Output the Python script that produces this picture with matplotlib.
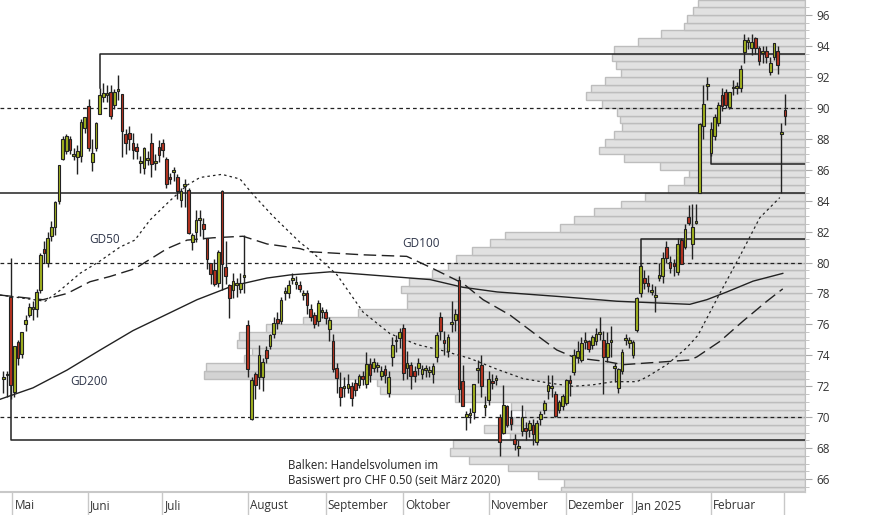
import matplotlib
matplotlib.use("Agg")
import matplotlib.pyplot as plt
import matplotlib.transforms as mtransforms
import numpy as np

plt.rcParams['font.family'] = ['Open Sans', 'DejaVu Sans']

# ---------------- data ----------------
ohlc = [
(72.5,73.0,71.6,72.6),(72.7,73.0,71.3,72.7),(77.8,80.3,71.2,72.1),(71.65,74.6,71.3,74.6),
(74.85,75.0,73.4,73.8),(74.1,75.5,73.8,75.5),(76.0,76.6,75.6,76.3),(76.6,77.4,76.5,77.1),
(77.0,77.5,76.3,77.05),(77.0,78.3,76.5,78.1),(78.2,80.6,78.0,80.5),(80.9,81.4,80.0,80.6),
(80.0,82.0,79.7,81.6),(81.7,82.7,81.4,82.3),(82.3,84.0,81.8,83.9),(84.0,86.3,83.8,86.3),
(86.7,88.2,86.6,88.0),(87.2,88.3,87.0,88.2),(88.0,88.2,87.0,87.3),(86.9,87.4,86.6,86.95),
(86.8,87.6,85.7,87.2),(86.9,89.3,86.5,89.1),(88.7,89.4,88.4,89.4),(90.1,90.6,87.2,87.4),
(86.5,88.0,85.9,87.1),(87.4,89.1,87.2,89.0),(89.6,91.3,89.6,90.8),(90.7,91.6,90.4,90.95),
(90.85,91.5,90.4,90.9),(91.0,91.5,89.3,89.5),(90.2,91.2,89.9,91.0),(91.1,92.1,90.5,91.15),
(90.9,90.9,86.8,88.5),(88.3,88.6,87.0,87.7),(88.4,88.8,87.3,88.0),(87.7,88.4,86.7,87.3),
(87.45,87.7,86.7,87.2),(86.45,86.9,85.8,86.5),(86.1,87.5,85.7,87.4),(86.65,87.2,86.3,86.7),
(87.7,88.4,85.5,86.35),(86.45,87.0,86.0,86.5),(87.45,87.9,86.5,86.95),(87.75,88.0,86.8,87.3),
(86.7,86.8,84.8,85.1),(85.55,85.8,85.1,85.4),(85.85,86.2,85.3,85.9),(85.55,85.7,84.1,84.6),
(84.05,84.8,83.6,84.65),(84.95,85.4,83.6,85.0),(84.7,84.8,81.85,81.9),(81.3,81.9,80.8,81.75),
(82.0,83.4,81.3,82.75),(82.75,83.4,81.7,82.8),(82.5,82.9,81.5,82.15),(81.6,81.6,79.6,80.2),
(79.95,80.0,78.6,79.26),(79.5,80.2,78.5,78.6),(78.65,80.8,78.4,80.7),(84.63,84.7,78.2,79.9),
(79.7,81.4,78.6,79.1),(78.55,78.6,76.4,77.7),(78.2,79.3,77.7,78.8),(78.55,79.0,77.8,78.6),
(78.3,79.3,78.0,78.7),(79.05,81.8,78.0,79.1),(75.96,76.3,72.6,73.1),(69.9,72.6,69.8,72.4),
(72.8,72.9,71.2,72.1),(72.6,74.7,71.8,74.0),(72.6,73.8,71.7,73.6),(74.35,74.6,73.5,73.8),
(74.6,75.4,74.4,75.3),(75.4,76.5,75.1,76.1),(76.35,76.8,75.7,76.1),(76.2,77.8,76.0,77.6),
(78.05,78.4,77.6,78.1),(78.05,78.9,77.7,78.55),(78.85,79.3,78.6,78.9),(78.6,79.1,78.3,78.65),
(78.55,78.8,78.1,78.3),(77.9,78.2,77.6,77.95),(78.05,78.2,76.7,77.25),(77.0,77.3,76.2,76.5),
(76.6,76.8,75.8,76.0),(76.2,77.6,75.9,77.4),(76.8,77.1,76.4,76.85),(76.8,77.0,76.0,76.4),
(75.7,76.5,74.9,76.3),(74.92,75.4,72.9,73.09),(73.16,73.5,71.6,72.51),(71.93,72.9,70.7,71.28),
(71.9,72.6,71.3,71.95),(71.86,72.8,71.6,72.12),(72.0,72.3,70.7,71.22),(72.19,72.5,71.4,71.76),
(72.08,72.8,71.9,72.66),(72.66,73.0,72.1,72.45),(72.12,74.2,71.9,73.42),(73.44,73.8,72.3,72.7),
(73.2,73.8,72.9,73.57),(73.25,73.6,72.9,73.3),(72.66,73.3,72.4,73.0),(73.1,73.4,72.2,72.7),
(71.54,73.0,71.3,72.6),(73.9,75.2,73.3,74.7),(74.9,75.3,74.2,74.95),(75.1,75.8,74.5,75.5),
(75.74,76.0,72.4,72.83),(73.2,74.3,72.5,73.5),(73.38,73.6,71.8,72.67),(73.0,73.3,72.3,72.67),
(73.2,73.8,72.7,73.53),(72.8,73.4,72.5,73.1),(73.05,73.4,72.6,73.1),(72.95,73.3,72.6,73.0),
(72.8,73.5,72.2,73.3),(73.9,75.5,73.6,75.3),(76.46,76.8,75.0,75.6),(75.0,75.6,74.0,74.8),
(74.3,75.4,73.9,75.2),(76.05,77.5,75.5,76.1),(76.3,77.0,75.6,76.7),(78.87,79.1,71.0,71.83),
(72.37,73.4,70.7,70.7),(70.0,70.4,69.2,70.2),(70.15,70.6,69.6,70.2),(70.36,72.1,69.9,72.13),
(73.05,73.7,72.2,73.1),(73.38,74.0,71.3,72.04),(70.65,71.4,70.1,70.7),(71.1,73.0,70.8,72.47),
(72.34,72.8,71.8,72.2),(72.4,72.7,72.1,72.45),(70.04,70.2,67.5,68.4),(68.96,72.1,68.9,70.8),
(70.73,70.8,69.4,69.5),(69.97,70.5,69.2,69.55),(68.6,68.9,67.9,68.27),(68.0,68.5,67.5,68.04),
(69.1,70.8,68.8,70.0),(69.3,69.7,68.5,69.1),(69.2,69.8,68.7,69.6),(69.5,69.9,68.2,68.9),
(68.4,69.8,68.2,69.6),(69.9,70.4,69.5,70.2),(70.5,71.1,70.2,70.9),(71.7,72.7,71.2,72.1),
(71.9,72.7,71.3,71.95),(71.5,71.7,70.0,70.1),(70.5,71.1,70.3,71.0),(70.7,71.5,70.5,71.4),
(70.9,72.5,70.8,72.4),(72.4,72.7,71.4,72.2),(72.9,74.4,72.7,74.0),(73.9,74.9,73.5,74.3),
(73.7,75.2,73.6,74.8),(74.85,75.5,74.4,74.9),(74.9,75.0,74.2,74.4),(74.65,75.3,74.4,75.16),
(74.95,75.8,74.7,75.35),(75.4,76.5,75.0,75.5),(74.99,75.6,71.5,73.9),(73.87,75.5,73.6,74.77),
(74.85,75.9,73.9,74.9),(73.2,73.5,72.3,73.25),(71.86,73.2,71.6,73.1),(73.0,74.4,72.8,74.2),
(75.0,75.4,74.7,75.05),(74.77,75.2,74.5,74.99),(74.0,75.0,73.8,74.84),(75.63,77.8,75.5,77.68),
(78.0,79.9,77.8,79.8),(79.0,79.5,78.3,78.7),(78.7,79.2,78.1,78.5),(78.1,78.6,77.9,78.15),
(77.8,78.5,76.8,77.85),(79.0,80.0,78.8,79.2),(79.1,80.7,78.7,80.3),(81.0,81.4,80.0,80.3),
(80.05,80.4,79.3,79.66),(79.94,80.2,79.1,79.77),(79.4,81.6,79.2,81.2),(81.45,81.6,79.9,79.9),
(81.0,82.5,80.9,82.2),(82.96,83.7,82.4,82.53),(81.2,83.8,80.2,82.3),(82.55,83.8,82.5,82.65),
(84.51,89.0,84.5,88.95),(88.82,91.5,88.0,90.22),(91.4,92.0,90.5,91.5),(87.1,89.1,86.9,88.6),
(88.2,89.6,87.9,89.4),(89.0,90.4,88.8,90.2),(90.8,91.3,89.8,90.1),(91.0,91.2,90.0,90.2),
(90.03,91.0,89.9,91.0),(91.25,91.8,90.8,91.3),(91.3,91.7,90.9,91.35),(91.26,92.8,91.0,92.5),
(93.58,94.8,92.9,94.38),(94.25,94.6,93.8,94.3),(93.84,94.8,93.4,94.23),(94.49,94.6,93.5,93.89),
(93.84,94.0,92.8,93.0),(93.55,94.0,92.9,93.6),(93.67,94.0,92.9,93.3),(92.3,93.3,92.1,92.9),
(93.3,94.2,93.1,94.2),(93.7,94.0,92.2,92.8),(88.3,89.0,84.5,88.35),(89.85,90.9,88.9,89.5),
]
opens = [r[0] for r in ohlc]
highs = [r[1] for r in ohlc]
lows = [r[2] for r in ohlc]
closes = [r[3] for r in ohlc]

gd50_x = [-0.9,11.3,15.3,20.7,26.1,31.5,35.5,39.6,45,49.6,53.1,59,63.9,67.4,72.8,80.1,82.8,90.1,97.1,
          104.4,111.7,118.7,126,133.3,140.3,147.6,153.8,159.2,164.6,171,173.7,179.1,184.5,187.5,193.4,198.8,204.2,209.6]
gd50_y = [77.9,77.5,78.2,79.3,80.1,81.0,81.45,82.75,84.0,85.0,85.5,85.7,85.4,84.4,83.0,81.3,80.8,79.2,76.8,
          75.4,74.7,74.3,73.8,73.1,72.5,72.2,72.0,72.1,72.3,72.3,72.6,73.4,74.5,75.3,78.0,80.4,82.9,84.2]
gd100_x = [-0.9,10.7,17.2,23.4,28.8,35.5,44.2,49.6,56.6,64.7,71.2,80.1,82.8,97.1,108.9,115.2,124.1,129.5,
           136.8,144.0,149.4,154.3,162.9,167.3,185.3,187.2,193.4,199.6,206.1,210.4]
gd100_y = [77.9,77.6,78.0,78.76,79.1,79.6,80.9,81.45,81.6,81.7,81.2,80.9,80.7,80.5,80.4,79.7,78.65,77.6,
           76.6,75.3,74.35,73.85,73.6,73.4,73.7,73.9,74.9,76.2,77.5,78.3]
gd200_x = [-0.9,8,17.2,26.1,35,52.3,62,71.2,77.4,88.2,104.4,115.2,124.1,133.3,150.3,165.6,185.3,189.9,195.3,202.4,210.4]
gd200_y = [71.16,71.9,73.05,74.34,75.6,77.6,78.5,79.0,79.2,79.4,79.1,78.9,78.4,78.1,77.8,77.5,77.3,77.6,78.1,78.8,79.3]

vol_levels = list(np.arange(65.0, 97.0, 0.5))
vol_left_px = [561,564,538,508,469,450,453,510,484,513,525,511,455,380,377,204,206,244,252,237,
               239,266,303,358,407,407,401,409,432,448,456,472,490,505,560,574,594,621,645,668,
               684,689,660,624,599,605,614,622,620,617,602,586,591,605,621,616,612,614,638,661,
               684,687,693,698]
vol_volume = [805 - v for v in vol_left_px]

month_names = ["Mai", "Juni", "Juli", "August", "September", "Oktober", "November",
               "Dezember", "Jan 2025", "Februar"]
month_starts = [2.4, 22.9, 42.9, 66.0, 87.0, 107.8, 131.0, 151.8, 169.8, 190.9]
month_end = 210.7

# ---------------- figure ----------------
W, H = 874, 515
fig = plt.figure(figsize=(W/100, H/100), dpi=100)
ax_h = 492
ax = fig.add_axes([0, (H-ax_h)/H, 805/W, ax_h/H])
ax2 = ax.twiny()
ax.set_zorder(2); ax2.set_zorder(1); ax.patch.set_visible(False)

ymin, ymax = 65.17, 96.97
xmin, xmax = -0.89, 216.4
ax.set_ylim(ymin, ymax); ax.set_xlim(xmin, xmax)

# volume profile
ax2.set_xlim(805, 0)
ax2.set_ylim(ymin, ymax)
colors = ['#d3d3d3' if abs(l-72.5) < 0.01 else '#e1e1e1' for l in vol_levels]
ax2.barh(vol_levels, vol_volume, left=0, height=0.5, align='edge', color=colors,
         edgecolor='#bdbdbd', linewidth=1.0)
ax2.set_xticks([]); 
for s in ax2.spines.values():
    s.set_visible(False)

# reference lines
for lvl in (90, 80, 70):
    ax.axhline(lvl, color='#222', lw=0.9, ls=(0, (3, 2.5)), zorder=3)
ax.axhline(84.5, color='#222', lw=1.1, zorder=3)
ax.plot([26, 26, xmax], [highs[26], 93.5, 93.5], color='#222', lw=1.1, zorder=3)
ax.plot([2, 2, xmax], [72.0, 68.5, 68.5], color='#222', lw=1.1, zorder=3)
ax.plot([172, 172, xmax], [79.8, 81.5, 81.5], color='#222', lw=1.1, zorder=3)
ax.plot([191, 191, xmax], [87.1, 86.34, 86.34], color='#222', lw=1.1, zorder=3)

# moving averages
ax.plot(gd50_x, gd50_y, color='#222', lw=0.9, ls=(0, (2, 2.5)), zorder=4)
ax.plot(gd100_x, gd100_y, color='#222', lw=1.0, ls=(0, (9, 4)), zorder=4)
ax.plot(gd200_x, gd200_y, color='#222', lw=1.0, zorder=4)

# candles
idx = np.arange(len(ohlc))
o = np.array(opens); c = np.array(closes)
ax.vlines(idx, lows, highs, color='#222', lw=1.0, zorder=5)
bottoms = np.minimum(o, c)
heights = np.maximum(np.abs(c - o), 0.12)
cols = ['#a2b21e' if cc >= oo else '#b8321f' for oo, cc in zip(o, c)]
ax.bar(idx, heights, bottom=bottoms, width=0.72, color=cols, edgecolor='#222', lw=0.8, zorder=6)

# labels
tc = '#2d3448'
ax.text(23.1, 81.46, "GD50", color=tc, fontsize=8.5, va='center', ha='left', zorder=7)
ax.text(107.8, 81.26, "GD100", color=tc, fontsize=8.5, va='center', ha='left', zorder=7)
ax.text(18.0, 72.28, "GD200", color=tc, fontsize=8.5, va='center', ha='left', zorder=7)
ax.text(76.8, 66.9, "Balken: Handelsvolumen im", color='#222', fontsize=8.3, va='center', ha='left', zorder=7)
ax.text(76.8, 65.94, "Basiswert pro CHF 0.50 (seit März 2020)", color='#222', fontsize=8.3, va='center', ha='left', zorder=7)

# axes styling
for s in ('top', 'left'):
    ax.spines[s].set_visible(False)
ax.spines['right'].set_color('#c0c0c0')
ax.spines['bottom'].set_color('#c8c8c8')
ax.spines['bottom'].set_linewidth(1.5)
ax.yaxis.tick_right()
ax.set_yticks(np.arange(66, 97, 2))
ax.set_yticks(np.arange(65.5, 97, 0.5), minor=True)
ax.tick_params(axis='y', which='major', length=5, color='#aaa', labelsize=8.5,
               labelcolor='#333', pad=3)
ax.tick_params(axis='y', which='minor', length=3, color='#bbb')
ax.set_xticks([])

trans = mtransforms.blended_transform_factory(ax.transData, ax.transAxes)
dy = 23 / ax_h
for m, x0 in zip(month_names, month_starts):
    ax.plot([x0, x0], [0, -dy], transform=trans, color='#c8c8c8', lw=1, clip_on=False)
    ax.text(x0 + 0.6, -dy * 0.6, m, transform=trans, fontsize=8.5, color='#333',
            ha='left', va='center', clip_on=False)
ax.plot([month_end, month_end], [0, -dy], transform=trans, color='#c8c8c8', lw=1, clip_on=False)

fig.savefig("out.png", dpi=100)
